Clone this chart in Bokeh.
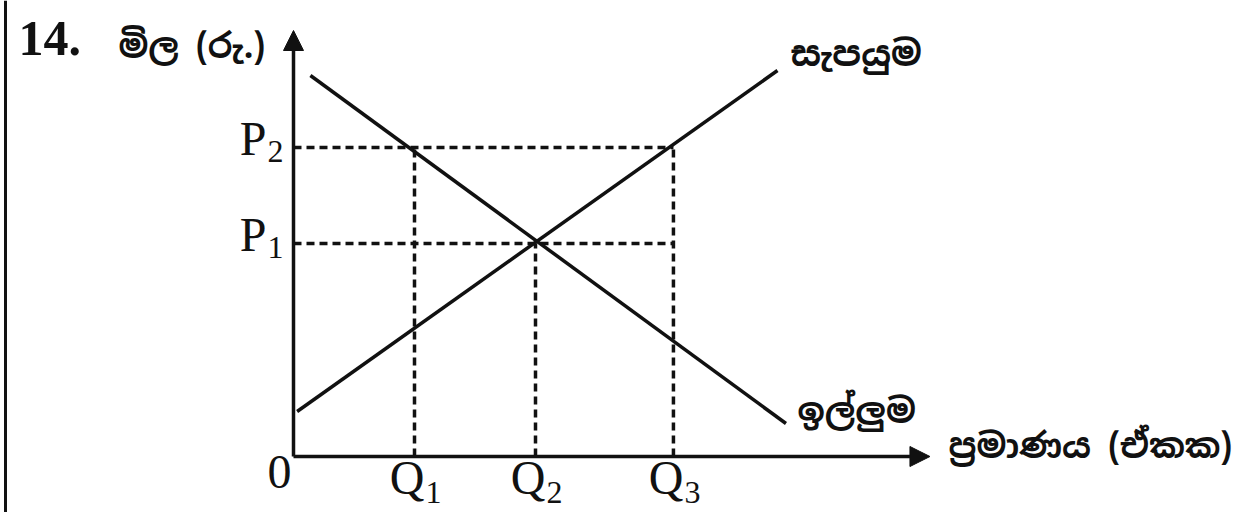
from bokeh.plotting import figure
from bokeh.models import Range1d, Arrow, NormalHead
from bokeh.core.properties import value
from bokeh.embed import file_html
from bokeh.resources import INLINE

# ---------------- data ----------------
question_no = "14."
y_title = "මිල (රු.)"
x_title = "ප්‍රමාණය (ඒකක)"
supply_name = "සැපයුම"
demand_name = "ඉල්ලුම"

q_letters = ["Q", "Q", "Q"]
q_subs = ["1", "2", "3"]
q_values = [1.0, 2.0, 3.14]

p_letters = ["P", "P"]
p_subs = ["1", "2"]
p_values = [2.13, 3.09]

origin_label = "0"

supply_q = [0.03, 4.0]
supply_p = [0.45, 3.86]

demand_q = [0.14, 4.07]
demand_p = [3.81, 0.33]

x_axis_end = 5.26
y_axis_end = 4.26

# ---------------- layout (pixels) ----------------
W, H = 1241, 512
OX, OY = 293, 456          # origin inside the canvas (from left, from top)
SX, SY = 121.0, 100.0      # pixels per unit

def dx(px):                # picture-pixel x -> data x
    return (px - OX) / SX

def dy(py):                # picture-pixel y -> data y
    return (OY - py) / SY

INK = "#111111"
SERIF = value("Liberation Serif")
SINH = value("'Noto Sans Sinhala', 'Noto Serif Sinhala', 'Noto Sans', sans-serif")

p = figure(width=W, height=H,
           x_range=Range1d(-OX / SX, (W - OX) / SX),
           y_range=Range1d(-(H - OY) / SY, OY / SY),
           output_backend="svg", toolbar_location=None,
           x_axis_type=None, y_axis_type=None, min_border=0,
           outline_line_color=None, background_fill_color="white",
           border_fill_color="white")
p.grid.visible = False

# scanned page border on the left
p.segment(x0=[dx(5)], y0=[-(H - OY) / SY], x1=[dx(5)], y1=[OY / SY],
          line_color=INK, line_width=3)

# dashed guide lines
p.multi_line(xs=[[0, q_values[2]], [0, q_values[2]]],
             ys=[[p_values[0], p_values[0]], [p_values[1], p_values[1]]],
             line_color=INK, line_width=3.5, line_dash="8 5")
p.multi_line(xs=[[q_values[0], q_values[0]], [q_values[1], q_values[1]], [q_values[2], q_values[2]]],
             ys=[[0, p_values[1]], [0, p_values[0]], [0, p_values[1]]],
             line_color=INK, line_width=3.5, line_dash="8 5")

# supply and demand curves
p.line(supply_q, supply_p, line_color=INK, line_width=3.5)
p.line(demand_q, demand_p, line_color=INK, line_width=3.5)

# axes with arrow heads
for xe, ye in [(x_axis_end, 0), (0, y_axis_end)]:
    p.add_layout(Arrow(end=NormalHead(size=20, fill_color=INK, line_color=INK),
                       x_start=0, y_start=0, x_end=xe, y_end=ye,
                       line_color=INK, line_width=3.5))

# tick-like labels (vertical centre of the glyphs)
p.text(x=[dx(279)], y=[dy(471)], text=[origin_label], text_align="center",
       text_baseline="middle", text_font=SERIF, text_font_size="48px", text_color=INK)

p.text(x=[dx(266)] * len(p_values), y=[v + 0.09 for v in p_values], text=p_letters,
       text_align="right", text_baseline="middle", text_font=SERIF,
       text_font_size="48px", text_color=INK)
p.text(x=[dx(267)] * len(p_values), y=[v - 0.04 for v in p_values], text=p_subs,
       text_align="left", text_baseline="middle", text_font=SERIF,
       text_font_size="32px", text_color=INK)

p.text(x=[v + 10 / SX for v in q_values], y=[dy(477)] * len(q_values), text=q_letters,
       text_align="right", text_baseline="middle", text_font=SERIF,
       text_font_size="48px", text_color=INK)
p.text(x=[v + 11 / SX for v in q_values], y=[dy(492)] * len(q_values), text=q_subs,
       text_align="left", text_baseline="middle", text_font=SERIF,
       text_font_size="32px", text_color=INK)

# question number
p.text(x=[dx(18)], y=[dy(38)], text=[question_no], text_align="left",
       text_baseline="middle", text_font=SERIF, text_font_style="bold",
       text_font_size="50px", text_color=INK)

# Sinhala labels
p.text(x=[dx(118)], y=[dy(45)], text=[y_title], text_align="left", text_baseline="middle",
       text_font=SINH, text_font_style="bold", text_font_size="34px", text_color=INK)
p.text(x=[dx(790)], y=[dy(53)], text=[supply_name], text_align="left", text_baseline="middle",
       text_font=SINH, text_font_style="bold", text_font_size="35px", text_color=INK)
p.text(x=[dx(797)], y=[dy(410)], text=[demand_name], text_align="left", text_baseline="middle",
       text_font=SINH, text_font_style="bold", text_font_size="34px", text_color=INK)
p.text(x=[dx(948)], y=[dy(445)], text=[x_title], text_align="left", text_baseline="middle",
       text_font=SINH, text_font_style="bold", text_font_size="34px", text_color=INK)

open("out.html", "w").write(file_html(p, INLINE))
